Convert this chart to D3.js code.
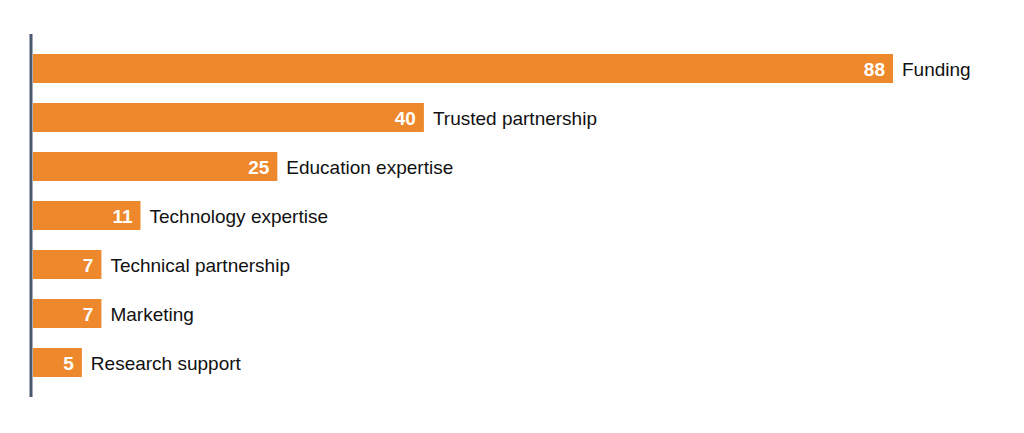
<!DOCTYPE html>
<html><head><meta charset="utf-8">
<script src="https://cdn.jsdelivr.net/npm/d3@7"></script>
<style>body{margin:0;background:#fff;}svg{display:block;}</style>
</head><body>
<script>
const categories = ["Funding","Trusted partnership","Education expertise","Technology expertise","Technical partnership","Marketing","Research support"];
const values = [88,40,25,11,7,7,5];

const W=1024,H=433;
const svg=d3.select("body").append("svg").attr("width",W).attr("height",H);
const x0=33;
const x=d3.scaleLinear().domain([0,88]).range([x0,893]);
const y=d3.scaleBand().domain(categories).range([54-10,397-10]).paddingInner(0.408).paddingOuter(0.204);

const g=svg.append("g");
g.selectAll("rect").data(categories).join("rect")
 .attr("x",x(0)).attr("y",d=>y(d)).attr("width",(d,i)=>x(values[i])-x(0)).attr("height",y.bandwidth())
 .attr("fill","#ED892C");
g.selectAll("text.v").data(categories).join("text").attr("class","v")
 .attr("x",(d,i)=>x(values[i])-8).attr("y",d=>y(d)+y.bandwidth()/2).attr("dy","0.42em")
 .attr("text-anchor","end").attr("fill","#fff").attr("font-weight","bold")
 .attr("font-family","Liberation Sans, Arial, sans-serif").attr("font-size",19)
 .text((d,i)=>values[i]);
g.selectAll("text.c").data(categories).join("text").attr("class","c")
 .attr("x",(d,i)=>x(values[i])+9).attr("y",d=>y(d)+y.bandwidth()/2).attr("dy","0.42em")
 .attr("fill","#111").attr("font-family","Liberation Sans, Arial, sans-serif").attr("font-size",19)
 .text(d=>d);
svg.append("line").attr("x1",31).attr("x2",31).attr("y1",34).attr("y2",397)
 .attr("stroke","#4A5870").attr("stroke-width",3);
</script>
</body></html>
